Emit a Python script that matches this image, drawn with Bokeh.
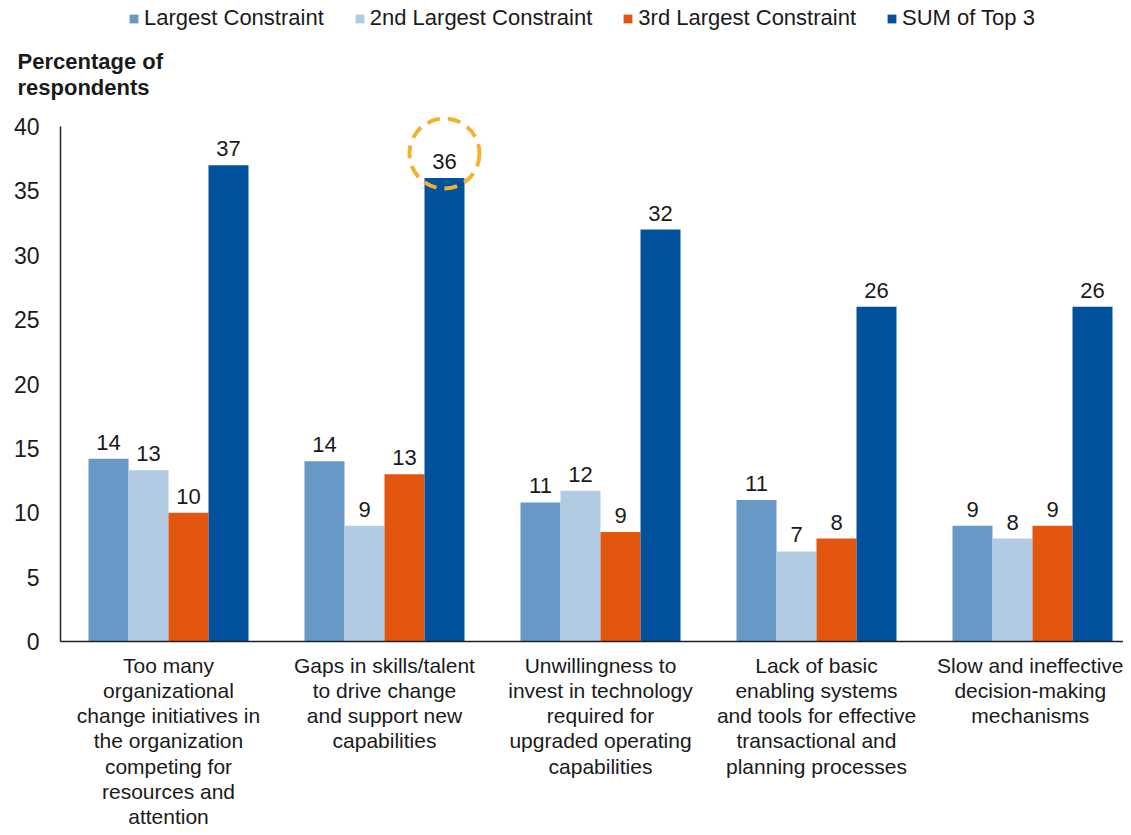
import numpy as np
from bokeh.plotting import figure
from bokeh.models import (ColumnDataSource, Legend, LegendItem, Label,
                          FixedTicker, Range1d)
from bokeh.core.properties import value
from bokeh.embed import file_html
from bokeh.resources import INLINE

# ---------------- data ----------------
categories = [
    "Too many\norganizational\nchange initiatives in\nthe organization\ncompeting for\nresources and\nattention",
    "Gaps in skills/talent\nto drive change\nand support new\ncapabilities",
    "Unwillingness to\ninvest in technology\nrequired for\nupgraded operating\ncapabilities",
    "Lack of basic\nenabling systems\nand tools for effective\ntransactional and\nplanning processes",
    "Slow and ineffective\ndecision-making\nmechanisms",
]
series_names = ["Largest Constraint", "2nd Largest Constraint",
                "3rd Largest Constraint", "SUM of Top 3"]
largest = [14.2, 14.0, 10.8, 11.0, 9.0]
second = [13.3, 9.0, 11.7, 7.0, 8.0]
third = [10.0, 13.0, 8.5, 8.0, 9.0]
sum_top3 = [37.0, 36.0, 32.0, 26.0, 26.0]
largest_labels = ["14", "14", "11", "11", "9"]
second_labels = ["13", "9", "12", "7", "8"]
third_labels = ["10", "13", "9", "8", "9"]
sum_labels = ["37", "36", "32", "26", "26"]
y_ticks = [0, 5, 10, 15, 20, 25, 30, 35, 40]
highlight_index = 1  # the circled "SUM of Top 3" value

series_values = [largest, second, third, sum_top3]
series_labels = [largest_labels, second_labels, third_labels, sum_labels]
colors = ["#6898C5", "#B2CBE2", "#E35610", "#02519C"]

FONT = "Liberation Sans"
TXT = "#1a1a1a"

# ---------------- figure ----------------
px_per_cat = 216.0
W, H = 1123, 827
axis_x_px = 60                 # where the value axis sits (from left)
axis_y_px = 641                # where the category axis sits (from top)
px_per_unit = 515.0 / 40.0
x_start = -axis_x_px / px_per_cat
x_end = (W - axis_x_px) / px_per_cat
y_start = -(H - axis_y_px) / px_per_unit
y_end = axis_y_px / px_per_unit

p = figure(width=W, height=H,
           x_range=Range1d(x_start, x_end),
           y_range=Range1d(y_start, y_end),
           output_backend="svg", toolbar_location=None,
           min_border_left=0, min_border_right=0,
           min_border_top=0, min_border_bottom=0)
p.grid.visible = False
p.outline_line_color = None
p.background_fill_color = "white"
p.border_fill_color = "white"

centers = np.arange(len(categories)) + 0.5
bar_w = 40.0 / px_per_cat
offsets = [-1.5 * bar_w, -0.5 * bar_w, 0.5 * bar_w, 1.5 * bar_w]

renderers = []
for vals, labs, col, off in zip(series_values, series_labels, colors, offsets):
    src = ColumnDataSource(dict(x=centers + off, top=vals, lab=labs))
    r = p.vbar(x="x", top="top", bottom=0, width=bar_w, source=src,
               fill_color=col, line_color=None)
    renderers.append(r)
    p.text(x="x", y="top", text="lab", source=src, y_offset=-9,
           text_align="center", text_baseline="bottom",
           text_font=value(FONT), text_font_size="22px", text_color=TXT)

# highlight circle around the 36 label
hx = [centers[highlight_index] + offsets[3]]
hy = [sum_top3[highlight_index] + 1.9]
p.scatter(x=hx, y=hy, marker="circle", size=70, fill_color=None,
          line_color="#F5B12E", line_width=4, line_dash="13 8")

# ---------------- axes ----------------
yax = p.yaxis[0]
yax.fixed_location = 0
yax.bounds = (0, 40)
yax.ticker = FixedTicker(ticks=y_ticks)
yax.major_tick_line_color = None
yax.minor_tick_line_color = None
yax.axis_line_color = "#222222"
yax.axis_line_width = 1.5
yax.major_label_text_font = FONT
yax.major_label_text_font_size = "23px"
yax.major_label_text_color = TXT
yax.major_label_standoff = 15

xax = p.xaxis[0]
xax.fixed_location = 0
xax.bounds = (0, x_end)
xax.ticker = FixedTicker(ticks=list(centers))
xax.major_label_overrides = {float(c): lab for c, lab in zip(centers, categories)}
xax.major_tick_line_color = None
xax.minor_tick_line_color = None
xax.axis_line_color = "#222222"
xax.axis_line_width = 1.5
xax.major_label_text_font = FONT
xax.major_label_text_font_size = "21px"
xax.major_label_text_color = TXT
xax.major_label_text_line_height = 1.1
xax.major_label_standoff = 6

# ---------------- legend (inside the frame, above the 40 line) ----------------
items = [LegendItem(label=n, renderers=[r]) for n, r in zip(series_names, renderers)]
legend = Legend(items=items, orientation="horizontal",
                location=(128, H - 31),
                glyph_width=11, glyph_height=11, label_standoff=5, spacing=30,
                padding=0, margin=0, border_line_color=None,
                background_fill_alpha=0,
                label_text_font=FONT, label_text_font_size="22px",
                label_text_color=TXT)
p.add_layout(legend)

# y title
p.add_layout(Label(x=(17 - axis_x_px) / px_per_cat, y=(axis_y_px - 48) / px_per_unit,
                   text="Percentage of\nrespondents", text_font=FONT,
                   text_font_size="22px", text_font_style="bold",
                   text_color=TXT, text_align="left",
                   text_baseline="top", text_line_height=1.05))

open("out.html", "w").write(file_html(p, INLINE))
